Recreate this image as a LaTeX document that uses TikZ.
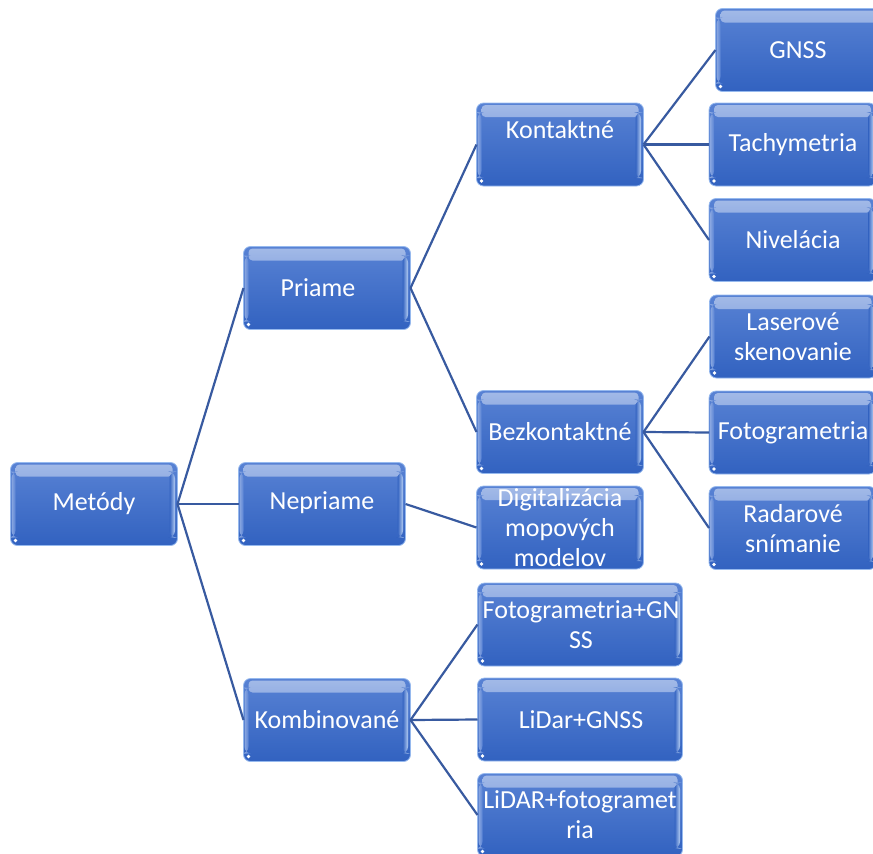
\documentclass[tikz,border=0pt]{standalone}
\usepackage{fontspec}
\setmainfont{Carlito}
\definecolor{boxtop}{RGB}{88,130,212}
\definecolor{boxbot}{RGB}{50,98,192}
\definecolor{boxrim}{RGB}{150,185,238}
\definecolor{linkc}{RGB}{56,90,160}
\tikzset{
  box/.style={rectangle, rounded corners=7pt, minimum width=167pt, minimum height=83pt,
    inner sep=0pt, outer sep=0pt, top color=boxtop, bottom color=boxbot,
    draw=boxrim, line width=0.8pt,
    path picture={
      \shade[top color=boxtop!55!white, bottom color=boxtop, rounded corners=4pt]
      ([xshift=5pt,yshift=-2pt]path picture bounding box.north west) rectangle
      ([xshift=-5pt,yshift=-14pt]path picture bounding box.north east);
      \shade[left color=boxbot, right color=boxrim!70!white]
      ([xshift=-8pt,yshift=-9pt]path picture bounding box.north east) rectangle
      ([xshift=-2.5pt,yshift=8pt]path picture bounding box.south east);
      \shade[left color=boxtop!70!white, right color=boxtop]
      ([xshift=1pt,yshift=-9pt]path picture bounding box.north west) rectangle
      ([xshift=5pt,yshift=8pt]path picture bounding box.south west);
      \fill[white] ([xshift=5pt,yshift=5pt]path picture bounding box.south west) circle (1.8pt);}},
  wide/.style={minimum width=205pt},
  lbl/.style={text=white, align=center, inner sep=0pt,
    font=\fontsize{26}{30}\selectfont},
  link/.style={draw=linkc, line width=2.2pt}
}
\begin{document}
\begin{tikzpicture}[x=1pt,y=-1pt]
\useasboundingbox (0,0) rectangle (873,854);
% boxes
\node[box] (m) at (94,504) {};
\node[box] (p) at (327,288) {};
\node[box] (n) at (322,504) {};
\node[box] (ko) at (327,720) {};
\node[box] (kt) at (560,144.5) {};
\node[box] (bz) at (560,432) {};
\node[box] (dg) at (560,527.5) {};
\node[box,wide] (fg) at (580,624.5) {};
\node[box,wide] (lg) at (580,719.5) {};
\node[box,wide] (lf) at (580,815) {};
\node[box] (gn) at (799,50) {};
\node[box] (ta) at (792.5,144.5) {};
\node[box] (ni) at (792.5,240) {};
\node[box] (la) at (793,336.5) {};
\node[box] (fo) at (792.5,432.5) {};
\node[box] (ra) at (792.5,528) {};
% labels
\node[lbl] (mt) at (94,504) {Metódy};
\node[lbl] (pt) at (318,288) {Priame};
\node[lbl] (nt) at (322,503) {Nepriame};
\node[lbl] (kot) at (327,720) {Kombinované};
\node[lbl] (ktt) at (560,130) {Kontaktné};
\node[lbl] (bzt) at (560,432) {Bezkontaktné};
\node[lbl] (dgt) at (560,528) {Digitalizácia\\mopových\\modelov};
\node[lbl] (fgt) at (581,625) {Fotogrametria+GN\\SS};
\node[lbl] (lgt) at (581,720) {LiDar+GNSS};
\node[lbl] (lft) at (580,815) {LiDAR+fotogramet\\ria};
\node[lbl] (gnt) at (798,50) {GNSS};
\node[lbl] (tat) at (793,145) {Tachymetria};
\node[lbl] (nit) at (793,240) {Nivelácia};
\node[lbl] (lat) at (793,337) {Laserové\\skenovanie};
\node[lbl] (fot) at (793,433) {Fotogrametria};
\node[lbl] (rat) at (793,529) {Radarové\\snímanie};
% connectors
\draw[link] (m.east) -- (p.west);
\draw[link] (m.east) -- (n.west);
\draw[link] (m.east) -- (ko.west);
\draw[link] (p.east) -- (kt.west);
\draw[link] (p.east) -- (bz.west);
\draw[link] (n.east) -- (dg.west);
\draw[link] (ko.east) -- (fg.west);
\draw[link] (ko.east) -- (lg.west);
\draw[link] (ko.east) -- (lf.west);
\draw[link] (kt.east) -- (gn.west);
\draw[link] (kt.east) -- (ta.west);
\draw[link] (kt.east) -- (ni.west);
\draw[link] (bz.east) -- (la.west);
\draw[link] (bz.east) -- (fo.west);
\draw[link] (bz.east) -- (ra.west);
\end{tikzpicture}
\end{document}
